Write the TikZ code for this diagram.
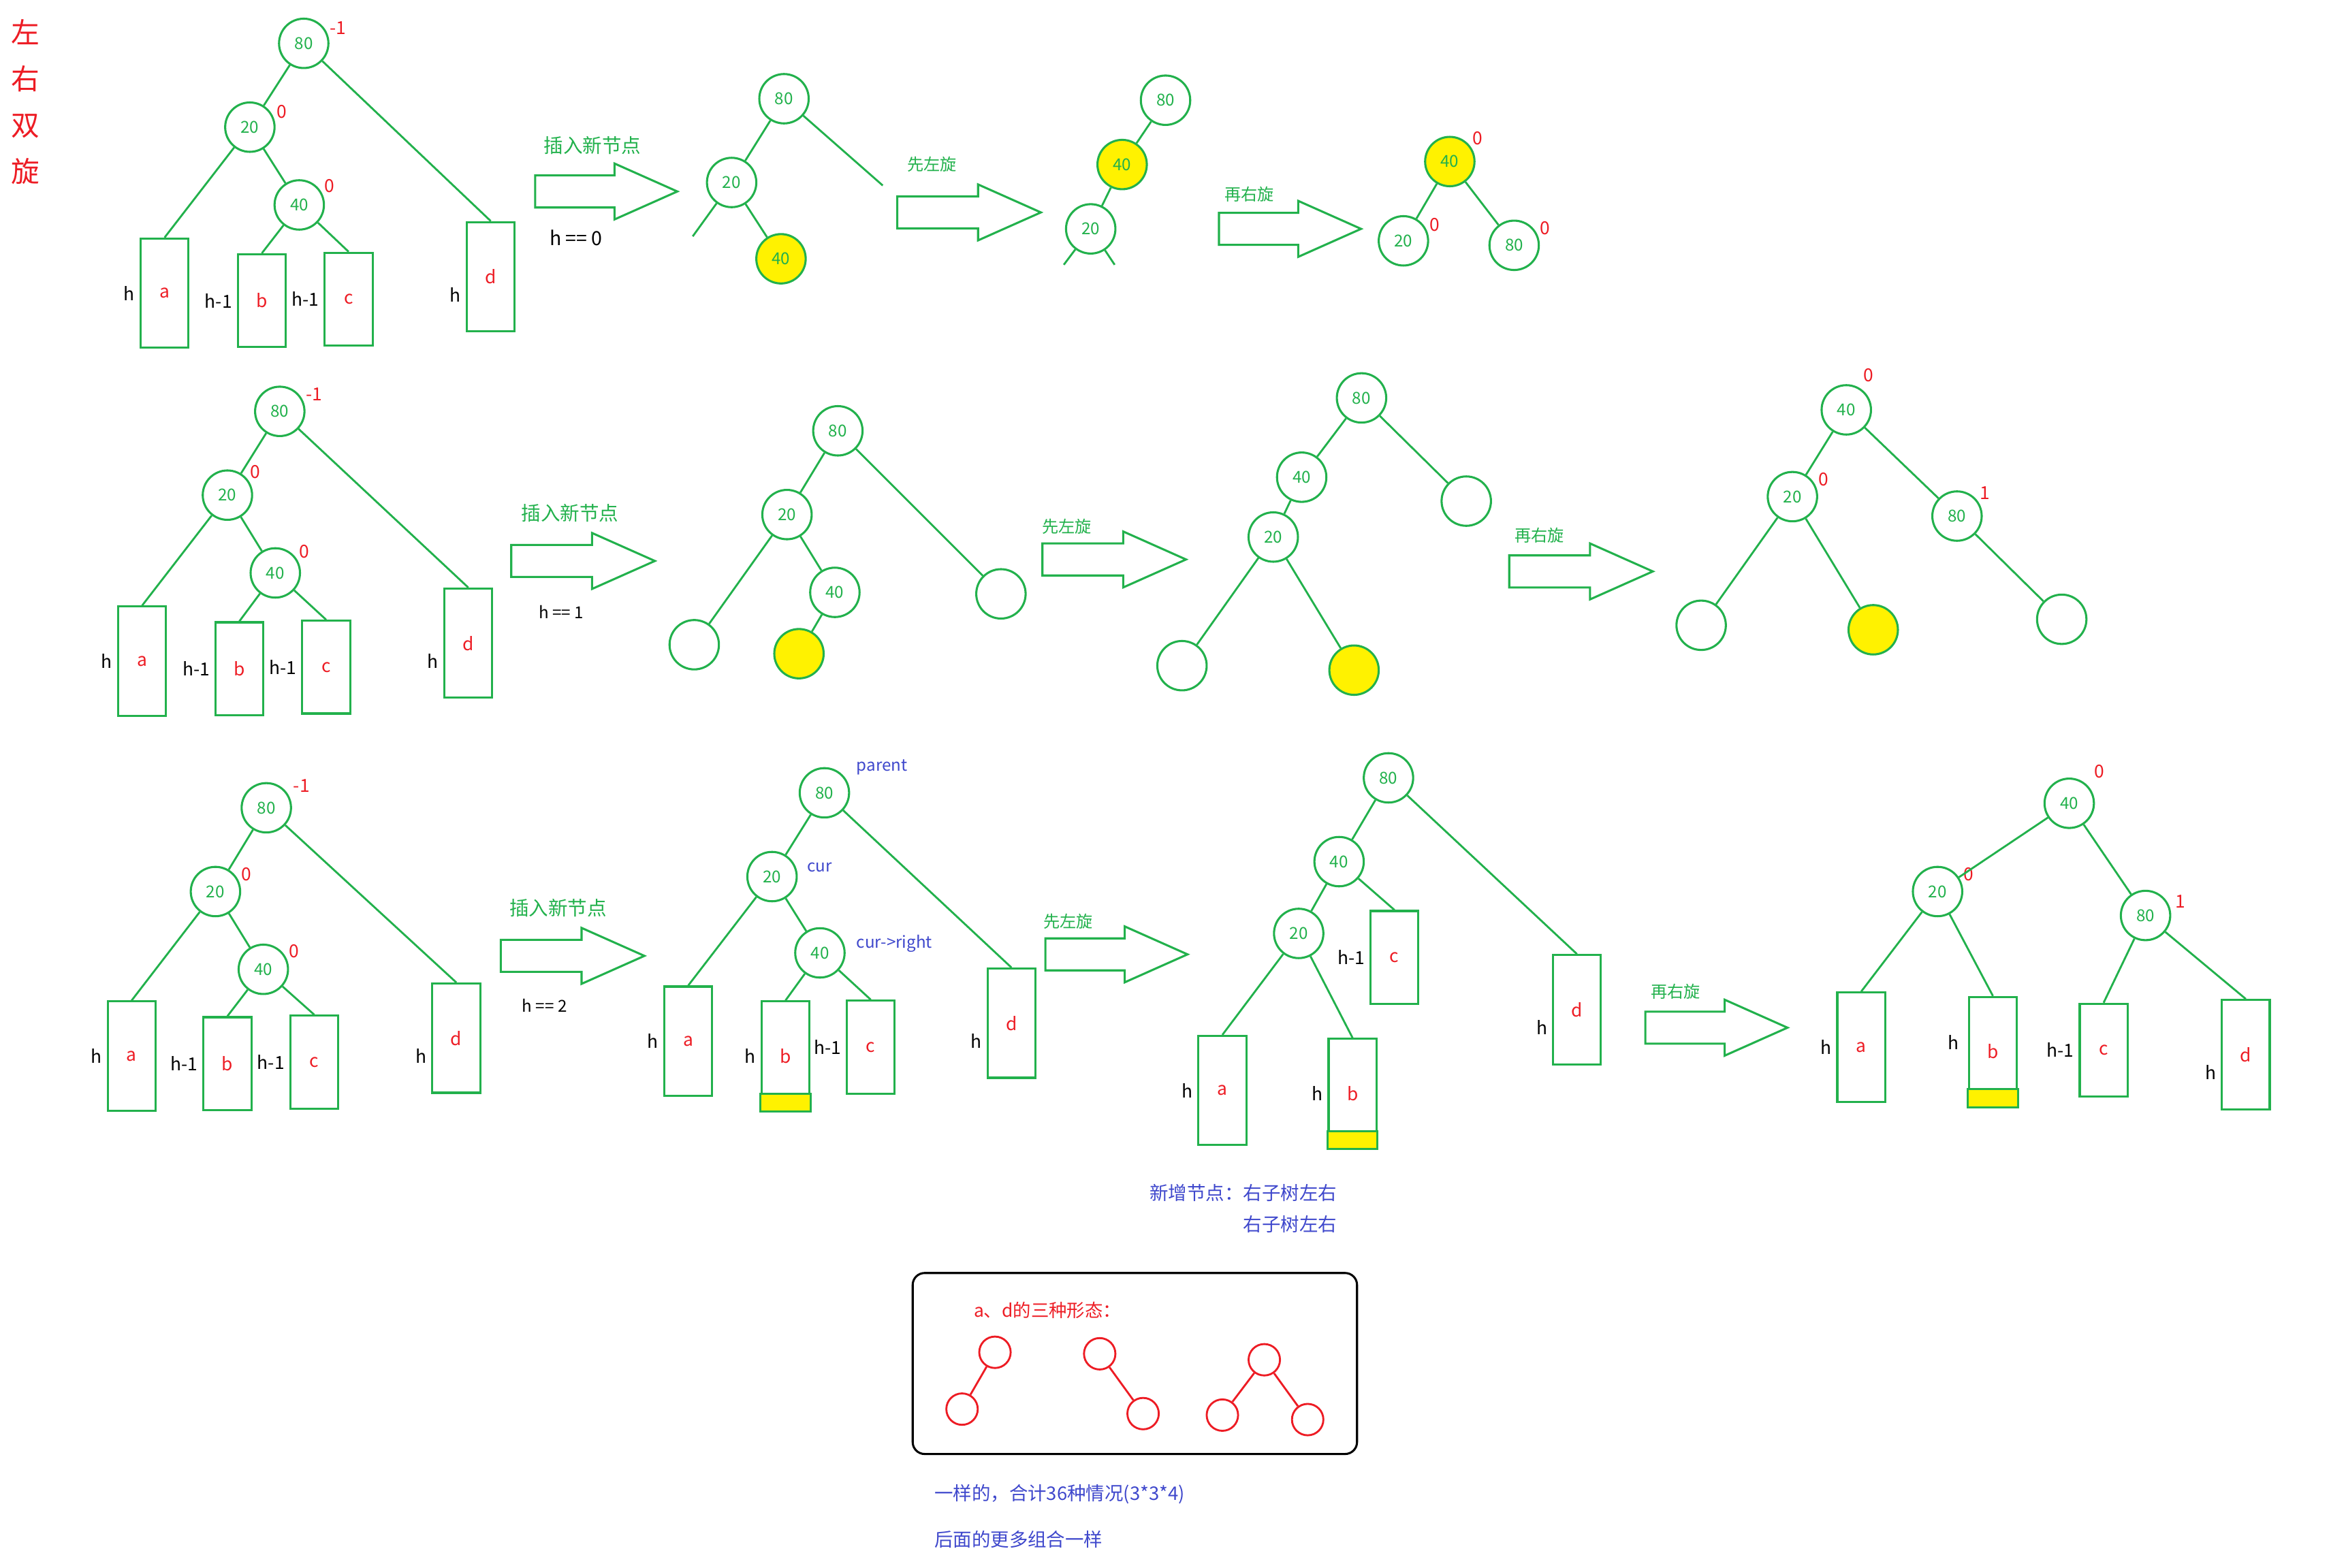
\documentclass[tikz,border=0pt]{standalone}
\usepackage{fontspec}
\setmainfont{Noto Sans CJK SC}
\usetikzlibrary{positioning,shapes.arrows}
\definecolor{grn}{RGB}{34,177,76}
\definecolor{rd}{RGB}{237,28,36}
\definecolor{ylw}{RGB}{255,242,0}
\definecolor{blu}{RGB}{63,72,204}
\tikzset{
  tnode/.style={circle, draw=grn, line width=1.4pt, minimum size=33pt, inner sep=0pt, text=grn, font=\fontsize{11}{13}\selectfont},
  newnode/.style={tnode, fill=ylw},
  sub/.style={draw=grn, line width=1.4pt, minimum width=32pt, inner sep=0pt, text=rd, font=\fontsize{12}{14}\selectfont},
  tallsub/.style={sub, minimum height=73pt},
  shortsub/.style={sub, minimum height=62pt},
  hlab/.style={font=\fontsize{12}{14}\selectfont, inner sep=0pt},
  bf/.style={text=rd, font=\fontsize{12}{14}\selectfont, inner sep=1pt},
  link/.style={draw=grn, line width=1.3pt},
  blockarrow/.style={single arrow, draw=grn, line width=1.4pt, inner sep=0pt, inner ysep=10pt, single arrow head extend=8pt, single arrow tip angle=48, minimum height=#1, anchor=tail},
  steplab/.style={text=grn, font=\fontsize{11}{13}\selectfont},
  inslab/.style={text=grn, font=\fontsize{13}{15}\selectfont},
  bluenote/.style={text=blu, font=\fontsize{12.5}{21}\selectfont},
  rball/.style={circle, draw=rd, line width=1.3pt, minimum size=21pt, inner sep=0pt},
  rlink/.style={draw=rd, line width=1.3pt}
}
\newcommand{\newleaf}[1]{\filldraw[fill=ylw, draw=grn, line width=1.4pt] (#1.south west) rectangle ([yshift=12pt]#1.south east);}
\begin{document}
\begin{tikzpicture}[x=1pt, y=-1pt]
\useasboundingbox (0,0) rectangle (1568,1048);
% title
\node[text=rd, font=\fontsize{19}{31}\selectfont, align=center] (title) at (17,68) {左\\右\\双\\旋};

% ---- row 1: h == 0
\node[tnode, label={[bf]17:-1}] (A80) at (203,29) {80};
\node[tnode, label={[bf]15:0}] (A20) at (167,85) {20};
\node[tnode, label={[bf]25:0}] (A40) at (200,137) {40};
\node[tallsub] (Asa) at (110,196) {a};
\node[shortsub] (Asb) at (175,201) {b};
\node[shortsub] (Asc) at (233,200) {c};
\node[tallsub] (Asd) at (328,185) {d};
\node[hlab, left=3pt of Asa] (Aha) {h};
\node[hlab, left=3pt of Asb] (Ahb) {h-1};
\node[hlab, left=3pt of Asc] (Ahc) {h-1};
\node[hlab, left=3pt of Asd, yshift=-12pt] (Ahd) {h};
\draw[link] (A80) -- (A20) (A80) -- (Asd.north) (A20) -- (Asa.north) (A20) -- (A40)
  (A40) -- (Asb.north) (A40) -- (Asc.north);

\node[blockarrow=95pt] (ar1) at (357,128) {};
\node[inslab] (ar1t) at (396,97) {插入新节点};
\node[font=\fontsize{13}{15}\selectfont] (ar1h) at (385,159) {h == 0};

\node[tnode] (B80) at (524,66) {80};
\node[tnode] (B20) at (489,122) {20};
\node[newnode] (B40) at (522,173) {40};
\coordinate (Bst1) at (590,124);
\coordinate (Bst2) at (463,158);
\draw[link] (B80) -- (B20) (B80) -- (Bst1) (B20) -- (Bst2) (B20) -- (B40);

\node[blockarrow=96pt] (ar2) at (599,142) {};
\node[steplab] (ar2t) at (623,110) {先左旋};

\node[tnode] (C80) at (779,67) {80};
\node[newnode] (C40) at (750,110) {40};
\node[tnode] (C20) at (729,153) {20};
\coordinate (Cst1) at (711,177);
\coordinate (Cst2) at (745,177);
\draw[link] (C80) -- (C40) (C40) -- (C20) (C20) -- (Cst1) (C20) -- (Cst2);

\node[blockarrow=95pt] (ar3) at (814,153) {};
\node[steplab] (ar3t) at (835,130) {再右旋};

\node[newnode, label={[bf]35:0}] (D40) at (969,108) {40};
\node[tnode, label={[bf]18:0}] (D20) at (938,161) {20};
\node[tnode, label={[bf]20:0}] (D80) at (1012,164) {80};
\draw[link] (D40) -- (D20) (D40) -- (D80);

% ---- row 2: h == 1
\node[tnode, label={[bf]20:-1}] (E80) at (187,275) {80};
\node[tnode, label={[bf]35:0}] (E20) at (152,331) {20};
\node[tnode, label={[bf]30:0}] (E40) at (184,383) {40};
\node[tallsub] (Esa) at (95,442) {a};
\node[shortsub] (Esb) at (160,447) {b};
\node[shortsub] (Esc) at (218,446) {c};
\node[tallsub] (Esd) at (313,430) {d};
\node[hlab, left=3pt of Esa] (Eha) {h};
\node[hlab, left=3pt of Esb] (Ehb) {h-1};
\node[hlab, left=3pt of Esc] (Ehc) {h-1};
\node[hlab, left=3pt of Esd, yshift=-12pt] (Ehd) {h};
\draw[link] (E80) -- (E20) (E80) -- (Esd.north) (E20) -- (Esa.north) (E20) -- (E40)
  (E40) -- (Esb.north) (E40) -- (Esc.north);

\node[blockarrow=96pt] (ar4) at (341,375) {};
\node[inslab] (ar4t) at (381,343) {插入新节点};
\node[hlab, font=\fontsize{11}{13}\selectfont] (ar4h) at (375,409) {h == 1};

\node[tnode] (F80) at (560,288) {80};
\node[tnode] (F20) at (526,344) {20};
\node[tnode] (F40) at (558,396) {40};
\node[tnode] (Fe1) at (464,431) {};
\node[newnode] (Fy) at (534,437) {};
\node[tnode] (Fe2) at (669,397) {};
\draw[link] (F80) -- (F20) (F80) -- (Fe2) (F20) -- (Fe1) (F20) -- (F40) (F40) -- (Fy);

\node[blockarrow=96pt] (ar5) at (696,374) {};
\node[steplab] (ar5t) at (713,352) {先左旋};

\node[tnode] (G80) at (910,266) {80};
\node[tnode] (G40) at (870,319) {40};
\node[tnode] (Ge2) at (980,335) {};
\node[tnode] (G20) at (851,359) {20};
\node[tnode] (Ge1) at (790,445) {};
\node[newnode] (Gy) at (905,448) {};
\draw[link] (G80) -- (G40) (G80) -- (Ge2) (G40) -- (G20) (G20) -- (Ge1) (G20) -- (Gy);

\node[blockarrow=96pt] (ar6) at (1008,382) {};
\node[steplab] (ar6t) at (1029,358) {再右旋};

\node[tnode, label={[bf, label distance=3pt]60:0}] (H40) at (1234,274) {40};
\node[tnode, label={[bf]20:0}] (H20) at (1198,332) {20};
\node[tnode, label={[bf]35:1}] (H80) at (1308,345) {80};
\node[tnode] (He1) at (1137,418) {};
\node[newnode] (Hy) at (1252,421) {};
\node[tnode] (He2) at (1378,414) {};
\draw[link] (H40) -- (H20) (H40) -- (H80) (H20) -- (He1) (H20) -- (Hy) (H80) -- (He2);

% ---- row 3: h == 2
\node[tnode, label={[bf, label distance=2pt]28:-1}] (I80) at (178,540) {80};
\node[tnode, label={[bf]20:0}] (I20) at (144,596) {20};
\node[tnode, label={[bf]22:0}] (I40) at (176,648) {40};
\node[tallsub] (Isa) at (88,706) {a};
\node[shortsub] (Isb) at (152,711) {b};
\node[shortsub] (Isc) at (210,710) {c};
\node[tallsub] (Isd) at (305,694) {d};
\node[hlab, left=3pt of Isa] (Iha) {h};
\node[hlab, left=3pt of Isb] (Ihb) {h-1};
\node[hlab, left=3pt of Isc] (Ihc) {h-1};
\node[hlab, left=3pt of Isd, yshift=-12pt] (Ihd) {h};
\draw[link] (I80) -- (I20) (I80) -- (Isd.north) (I20) -- (Isa.north) (I20) -- (I40)
  (I40) -- (Isb.north) (I40) -- (Isc.north);

\node[blockarrow=96pt] (ar7) at (334,639) {};
\node[inslab] (ar7t) at (373,607) {插入新节点};
\node[hlab, font=\fontsize{11}{13}\selectfont] (ar7h) at (364,672) {h == 2};

\node[tnode] (J80) at (551,530) {80};
\node[tnode] (J20) at (516,586) {20};
\node[tnode] (J40) at (548,637) {40};
\node[tallsub] (Jsa) at (460,696) {a};
\node[tallsub] (Jsb) at (525,706) {b};
\node[shortsub] (Jsc) at (582,700) {c};
\node[tallsub] (Jsd) at (676,684) {d};
\newleaf{Jsb}
\node[hlab, left=3pt of Jsa] (Jha) {h};
\node[hlab, left=3pt of Jsb] (Jhb) {h};
\node[hlab, left=3pt of Jsc] (Jhc) {h-1};
\node[hlab, left=3pt of Jsd, yshift=-12pt] (Jhd) {h};
\node[text=blu, font=\fontsize{11}{13}\selectfont, anchor=west] (Jp) at (569,513) {parent};
\node[text=blu, font=\fontsize{11}{13}\selectfont, anchor=west] (Jc) at (536,580) {cur};
\node[text=blu, font=\fontsize{11}{13}\selectfont, anchor=west] (Jcr) at (569,631) {cur->right};
\draw[link] (J80) -- (J20) (J80) -- (Jsd.north) (J20) -- (Jsa.north) (J20) -- (J40)
  (J40) -- (Jsb.north) (J40) -- (Jsc.north);

\node[blockarrow=95pt] (ar8) at (698,638) {};
\node[steplab] (ar8t) at (714,616) {先左旋};

\node[tnode] (K80) at (928,520) {80};
\node[tnode] (K40) at (895,576) {40};
\node[tnode] (K20) at (868,624) {20};
\node[shortsub] (Ksc) at (932,640) {c};
\node[tallsub] (Ksa) at (817,729) {a};
\node[tallsub] (Ksb) at (904,731) {b};
\node[tallsub] (Ksd) at (1054,675) {d};
\newleaf{Ksb}
\node[hlab, left=3pt of Ksa] (Kha) {h};
\node[hlab, left=3pt of Ksb] (Khb) {h};
\node[hlab, left=3pt of Ksc] (Khc) {h-1};
\node[hlab, left=3pt of Ksd, yshift=-12pt] (Khd) {h};
\draw[link] (K80) -- (K40) (K80) -- (Ksd.north) (K40) -- (K20) (K40) -- (Ksc.north)
  (K20) -- (Ksa.north) (K20) -- (Ksb.north);
\node[bluenote, align=right, anchor=north east] (Knote) at (897,788) {新增节点：右子树左右\\右子树左右};

\node[blockarrow=95pt] (ar9) at (1099,687) {};
\node[steplab] (ar9t) at (1120,663) {再右旋};

\node[tnode, label={[bf, label distance=5pt]45:0}] (L40) at (1383,537) {40};
\node[tnode, label={[bf]20:0}] (L20) at (1295,596) {20};
\node[tnode, label={[bf, label distance=2pt]12:1}] (L80) at (1434,612) {80};
\node[tallsub] (Lsa) at (1244,700) {a};
\node[tallsub] (Lsb) at (1332,703) {b};
\node[shortsub] (Lsc) at (1406,702) {c};
\node[tallsub] (Lsd) at (1501,705) {d};
\newleaf{Lsb}
\node[hlab, left=3pt of Lsa] (Lha) {h};
\node[hlab, left=6pt of Lsb, yshift=6pt] (Lhb) {h};
\node[hlab, left=3pt of Lsc] (Lhc) {h-1};
\node[hlab, left=3pt of Lsd, yshift=-12pt] (Lhd) {h};
\draw[link] (L40) -- (L20) (L40) -- (L80) (L20) -- (Lsa.north) (L20) -- (Lsb.north)
  (L80) -- (Lsc.north) (L80) -- (Lsd.north);

% ---- shapes of a and d
\node[draw, rounded corners=8pt, line width=1.4pt, minimum width=297pt, minimum height=121pt] (kinds) at (758.5,911.5) {};
\node[text=rd, font=\fontsize{12}{14}\selectfont] (kindst) at (700,876) {a、d的三种形态：};
\node[rball] (s1t) at (665,904) {};
\node[rball] (s1l) at (643,942) {};
\node[rball] (s2t) at (735,905) {};
\node[rball] (s2r) at (764,945) {};
\node[rball] (s3t) at (845,909) {};
\node[rball] (s3l) at (817,946) {};
\node[rball] (s3r) at (874,949) {};
\draw[rlink] (s1t) -- (s1l) (s2t) -- (s2r) (s3t) -- (s3l) (s3t) -- (s3r);

\node[bluenote, anchor=west] (sum1) at (621,999) {一样的，合计36种情况(3*3*4)};
\node[bluenote, anchor=west] (sum2) at (621,1029) {后面的更多组合一样};
\end{tikzpicture}
\end{document}
